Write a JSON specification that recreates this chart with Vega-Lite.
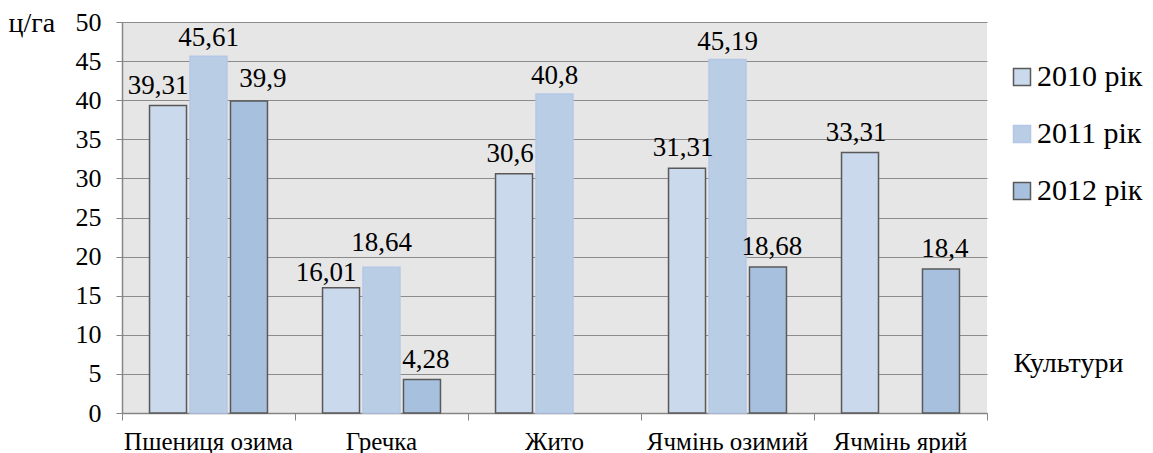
{
  "$schema": "https://vega.github.io/schema/vega-lite/v6.json",
  "width": 865,
  "height": 391,
  "autosize": "none",
  "padding": {"left": 122, "top": 22, "right": 166, "bottom": 40},
  "background": "white",
  "config": {
    "font": "Liberation Serif",
    "view": {"fill": "#e6e6e6", "stroke": null},
    "text": {"font": "Liberation Serif", "fontSize": 27, "baseline": "alphabetic", "color": "black"}
  },
  "data": {
    "values": [
      {"crop": "Пшениця озима", "year": "2010 рік", "value": 39.31, "label": "39,31"},
      {"crop": "Пшениця озима", "year": "2011 рік", "value": 45.61, "label": "45,61"},
      {"crop": "Пшениця озима", "year": "2012 рік", "value": 39.9, "label": "39,9"},
      {"crop": "Гречка", "year": "2010 рік", "value": 16.01, "label": "16,01"},
      {"crop": "Гречка", "year": "2011 рік", "value": 18.64, "label": "18,64"},
      {"crop": "Гречка", "year": "2012 рік", "value": 4.28, "label": "4,28"},
      {"crop": "Жито", "year": "2010 рік", "value": 30.6, "label": "30,6"},
      {"crop": "Жито", "year": "2011 рік", "value": 40.8, "label": "40,8"},
      {"crop": "Ячмінь озимий", "year": "2010 рік", "value": 31.31, "label": "31,31"},
      {"crop": "Ячмінь озимий", "year": "2011 рік", "value": 45.19, "label": "45,19"},
      {"crop": "Ячмінь озимий", "year": "2012 рік", "value": 18.68, "label": "18,68"},
      {"crop": "Ячмінь ярий", "year": "2010 рік", "value": 33.31, "label": "33,31"},
      {"crop": "Ячмінь ярий", "year": "2012 рік", "value": 18.4, "label": "18,4"}
    ]
  },
  "encoding": {
    "y": {
      "field": "value",
      "type": "quantitative",
      "scale": {"domain": [0, 50], "nice": false},
      "axis": {
        "values": [0, 5, 10, 15, 20, 25, 30, 35, 40, 45, 50],
        "title": "ц/га",
        "titleFont": "Liberation Serif",
        "labelFont": "Liberation Serif",
        "titleFontWeight": "normal",
        "titleColor": "black",
        "labelColor": "black",
        "domainColor": "#868686",
        "tickColor": "#868686",
        "titleAngle": 0,
        "titleX": -114,
        "titleY": 9,
        "titleAlign": "left",
        "titleBaseline": "alphabetic",
        "titleFontSize": 28,
        "labelFontSize": 26,
        "labelPadding": 15,
        "tickSize": 6,
        "domainWidth": 1.5,
        "gridColor": "#8c8c8c",
        "gridWidth": 1.2
      }
    }
  },
  "resolve": {"axis": {"x": "independent"}},
  "layer": [
    {
      "mark": {"type": "bar", "strokeWidth": 1.5},
      "encoding": {
        "x": {
          "field": "crop", "type": "nominal", "sort": null,
          "scale": {"paddingInner": 0, "paddingOuter": 0},
          "axis": {"orient": "bottom", "labels": false, "ticks": true, "tickSize": 7, "bandPosition": 1, "tickExtra": true, "domain": true, "domainWidth": 1.5, "domainColor": "#868686", "tickColor": "#868686", "title": null, "grid": false}
        },
        "xOffset": {
          "field": "year", "type": "nominal",
          "scale": {"domain": ["2010 рік", "2011 рік", "2012 рік"], "paddingInner": 0.086, "paddingOuter": 0.68}
        },
        "color": {
          "field": "year", "type": "nominal",
          "scale": {"domain": ["2010 рік", "2011 рік", "2012 рік"], "range": ["#cad9eb", "#b9cde5", "#a7c0de"]},
          "legend": {
            "title": null, "orient": "none", "legendX": 885, "legendY": 40,
            "symbolType": "square", "symbolSize": 289, "symbolStrokeWidth": 1.5,
            "labelFont": "Liberation Serif", "labelFontSize": 30, "labelOffset": 0, "rowPadding": 27, "padding": 0, "labelColor": "black"
          }
        },
        "stroke": {
          "field": "year", "type": "nominal",
          "scale": {"domain": ["2010 рік", "2011 рік", "2012 рік"], "range": ["#595959", "#b4c7e7", "#595959"]},
          "legend": {
            "title": null, "orient": "none", "legendX": 885, "legendY": 40,
            "symbolType": "square", "symbolSize": 289, "symbolStrokeWidth": 1.5,
            "labelFont": "Liberation Serif", "labelFontSize": 30, "labelOffset": 0, "rowPadding": 27, "padding": 0, "labelColor": "black"
          }
        }
      }
    },
    {
      "transform": [{"filter": "datum.year == '2011 рік' && datum.crop != 'Гречка'"}],
      "mark": {"type": "text", "dy": -10},
      "encoding": {
        "x": {
          "field": "crop", "type": "nominal", "sort": null,
          "axis": {"orient": "bottom", "labels": true, "ticks": false, "tickSize": 0, "domain": false, "grid": false,
                   "labelFont": "Liberation Serif", "titleFont": "Liberation Serif", "labelColor": "black", "titleColor": "black", "titleFontWeight": "normal",
                   "labelFontSize": 25, "labelPadding": 36, "labelBaseline": "alphabetic", "labelAngle": 0,
                   "title": "Культури", "titleFontSize": 28, "titleX": 891, "titleY": -42, "titleAlign": "left", "titleAnchor": "start", "titleBaseline": "alphabetic"}
        },
        "xOffset": {"field": "year", "type": "nominal"},
        "text": {"field": "label", "type": "nominal"}
      }
    },
    {
      "transform": [{"filter": "datum.year == '2011 рік' && datum.crop == 'Гречка'"}],
      "mark": {"type": "text", "dy": -16},
      "encoding": {
        "x": {"field": "crop", "type": "nominal", "sort": null, "axis": null},
        "xOffset": {"field": "year", "type": "nominal"},
        "text": {"field": "label", "type": "nominal"}
      }
    },
    {
      "transform": [{"filter": "datum.year == '2010 рік' && datum.crop == 'Пшениця озима'"}],
      "mark": {"type": "text", "dy": -12, "dx": -10},
      "encoding": {
        "x": {"field": "crop", "type": "nominal", "sort": null, "axis": null},
        "xOffset": {"field": "year", "type": "nominal"},
        "text": {"field": "label", "type": "nominal"}
      }
    },
    {
      "transform": [{"filter": "datum.year == '2010 рік' && datum.crop == 'Гречка'"}],
      "mark": {"type": "text", "dy": -7, "dx": -15},
      "encoding": {
        "x": {"field": "crop", "type": "nominal", "sort": null, "axis": null},
        "xOffset": {"field": "year", "type": "nominal"},
        "text": {"field": "label", "type": "nominal"}
      }
    },
    {
      "transform": [{"filter": "datum.year == '2010 рік' && datum.crop != 'Гречка' && datum.crop != 'Пшениця озима'"}],
      "mark": {"type": "text", "dy": -12, "dx": -4},
      "encoding": {
        "x": {"field": "crop", "type": "nominal", "sort": null, "axis": null},
        "xOffset": {"field": "year", "type": "nominal"},
        "text": {"field": "label", "type": "nominal"}
      }
    },
    {
      "transform": [{"filter": "datum.year == '2012 рік' && datum.crop == 'Пшениця озима'"}],
      "mark": {"type": "text", "dy": -14, "dx": 14},
      "encoding": {
        "x": {"field": "crop", "type": "nominal", "sort": null, "axis": null},
        "xOffset": {"field": "year", "type": "nominal"},
        "text": {"field": "label", "type": "nominal"}
      }
    },
    {
      "transform": [{"filter": "datum.year == '2012 рік' && datum.crop != 'Пшениця озима'"}],
      "mark": {"type": "text", "dy": -12, "dx": 4},
      "encoding": {
        "x": {"field": "crop", "type": "nominal", "sort": null, "axis": null},
        "xOffset": {"field": "year", "type": "nominal"},
        "text": {"field": "label", "type": "nominal"}
      }
    }
  ]
}
